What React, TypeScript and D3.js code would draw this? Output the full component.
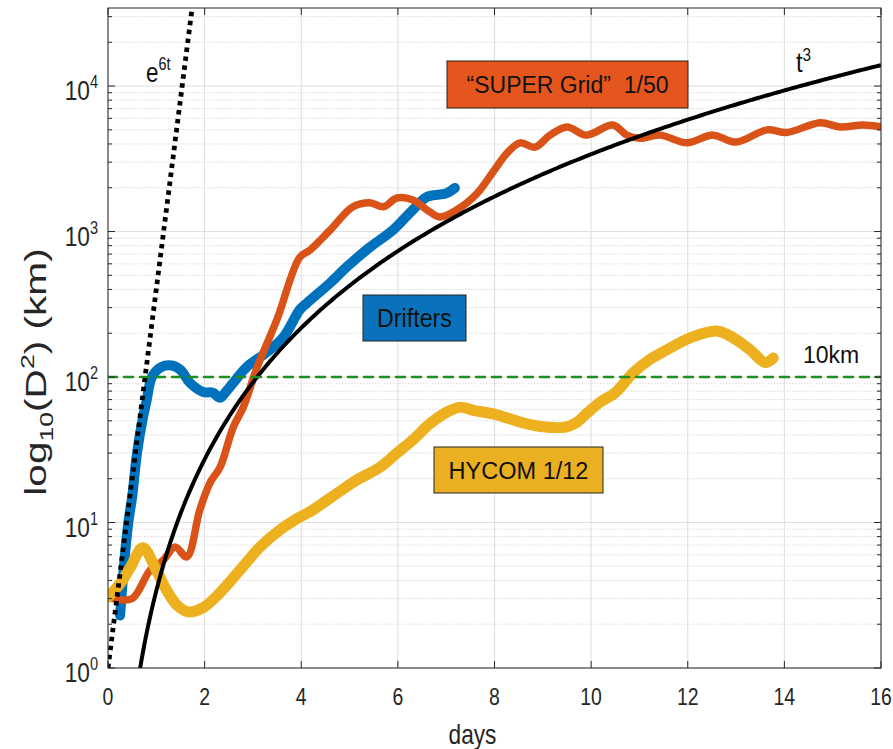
import React from "react";
import * as d3 from "d3";

// ---------- data ----------
const driftersDays = [0.25, 0.33, 0.42, 0.5, 0.6, 0.72, 0.8, 0.91, 1.1, 1.32, 1.5, 1.7, 1.97, 2.17, 2.32, 2.45, 2.59, 2.87, 3.29, 3.63, 3.97, 4.12, 4.6, 4.94, 5.42, 5.9, 6.31, 6.6, 7.0, 7.18];
const driftersD2 = [2.3, 5, 10, 15, 30, 52, 69, 100, 117, 120, 112, 91, 79, 78, 72, 80, 91, 117, 148, 188, 290, 323, 444, 570, 780, 1025, 1410, 1730, 1830, 1990];

const superDays = [0.1, 0.5, 0.87, 1.14, 1.39, 1.63, 1.9, 2.11, 2.32, 2.59, 2.8, 3.08, 3.5, 3.97, 4.18, 4.6, 5.07, 5.42, 5.7, 5.98, 6.31, 6.6, 6.87, 7.22, 7.64, 7.98, 8.26, 8.53, 8.84, 9.15, 9.5, 9.9, 10.45, 10.74, 11.0, 11.43, 11.98, 12.52, 13.0, 13.64, 14.05, 14.74, 15.15, 15.63, 16];
const superD2 = [3.0, 3.0, 4.7, 5.5, 6.8, 5.8, 12.2, 18.7, 24, 45, 62, 115, 250, 665, 745, 1025, 1480, 1580, 1480, 1700, 1650, 1410, 1260, 1410, 1830, 2600, 3460, 4070, 3800, 4600, 5240, 4600, 5400, 4600, 4380, 4600, 4070, 4600, 4120, 5000, 4800, 5600, 5240, 5400, 5240];

const hycomDays = [0, 0.25, 0.46, 0.72, 1.0, 1.22, 1.43, 1.66, 1.97, 2.32, 2.73, 3.15, 3.56, 3.97, 4.24, 4.74, 5.15, 5.63, 5.98, 6.31, 6.67, 7.02, 7.29, 7.56, 8.05, 8.53, 9.0, 9.5, 9.71, 9.92, 10.18, 10.5, 10.87, 11.2, 11.57, 12.05, 12.6, 12.94, 13.29, 13.6, 13.77];
const hycomD2 = [3.07, 3.8, 4.9, 6.7, 4.7, 3.4, 2.7, 2.43, 2.6, 3.3, 4.7, 6.8, 8.9, 10.9, 12.2, 15.9, 19.6, 24, 30, 37, 48, 57.5, 62, 59, 55, 49, 45.5, 45.5, 49, 56.6, 67, 78, 107, 131, 154, 186, 207, 186, 154, 126, 135];

// reference curves (as labelled in the chart): D2 = 3.4 t^3 and D2 = e^(6t)
const cubicCoef = 3.4;
const expRate = 6;
const refDays = d3.range(0, 16.001, 0.05);
const threshold10km = 100;

const xTicks = [0, 2, 4, 6, 8, 10, 12, 14, 16];
const yDecades = [0, 1, 2, 3, 4];

// ---------- layout ----------
const W = 893, H = 749;
const L = 108, R = 881, T = 8, B = 668;
const yMax = 34400;

const FONT = "'Liberation Sans', Arial, Helvetica, sans-serif";

export default function App() {
  const x = d3.scaleLinear().domain([0, 16]).range([L, R]);
  const y = d3.scaleLog().domain([1, yMax]).range([B, T]);

  const line = d3
    .line<[number, number]>()
    .x((d) => x(d[0]))
    .y((d) => y(d[1]))
    .curve(d3.curveCatmullRom.alpha(0.5));
  const straight = d3
    .line<[number, number]>()
    .x((d) => x(d[0]))
    .y((d) => y(d[1]));

  const zip = (a: number[], b: number[]) => a.map((v, i) => [v, b[i]] as [number, number]);

  const cubic = refDays.filter((t) => t > 0.6).map((t) => [t, cubicCoef * t * t * t] as [number, number]);
  const expo = refDays.filter((t) => t <= 1.8).map((t) => [t, Math.exp(expRate * t)] as [number, number]);

  const minorVals: number[] = [];
  for (let k = 0; k <= 4; k++) {
    for (let m = 2; m <= 9; m++) {
      const v = m * Math.pow(10, k);
      if (v < yMax) minorVals.push(v);
    }
  }

  const axisColor = "#262626";
  const gridColor = "#dedede";

  const sx = 0.81;

  return (
    <svg width={W} height={H} style={{ position: "absolute", left: 0, top: 0, background: "#fff" }}>
      <defs>
        <clipPath id="plot">
          <rect x={L} y={T} width={R - L} height={B - T} />
        </clipPath>
      </defs>
      <rect x={0} y={0} width={W} height={H} fill="#fff" />

      {/* grid */}
      <g>
        {minorVals.map((v) => (
          <line key={"mg" + v} x1={L} x2={R} y1={y(v)} y2={y(v)} stroke="#d0d0d0" strokeWidth={0.8} strokeDasharray="1.5,1.5" />
        ))}
        {yDecades.map((k) => (
          <line key={"yg" + k} x1={L} x2={R} y1={y(Math.pow(10, k))} y2={y(Math.pow(10, k))} stroke={gridColor} strokeWidth={1} />
        ))}
        {xTicks.map((t) => (
          <line key={"xg" + t} x1={x(t)} x2={x(t)} y1={T} y2={B} stroke={gridColor} strokeWidth={1} />
        ))}
      </g>

      {/* data */}
      <g clipPath="url(#plot)" fill="none" strokeLinejoin="round" strokeLinecap="round">
        <path d={line(zip(driftersDays, driftersD2)) || ""} stroke="#0072BD" strokeWidth={10} />
        <path d={line(zip(superDays, superD2)) || ""} stroke="#D95319" strokeWidth={7.5} />
        <path d={line(zip(hycomDays, hycomD2)) || ""} stroke="#EDB120" strokeWidth={11} />
        <path d={straight(cubic) || ""} stroke="#000" strokeWidth={4} strokeLinecap="butt" />
        <path d={straight(expo) || ""} stroke="#000" strokeWidth={4.8} strokeDasharray="4.5,4.5" strokeLinecap="butt" />
        <line x1={L} x2={R} y1={y(threshold10km)} y2={y(threshold10km)} stroke="#1f8f1f" strokeWidth={2.5} strokeDasharray="9,7" />
      </g>

      {/* axes box and ticks */}
      <g stroke={axisColor} strokeWidth={1}>
        <rect x={L} y={T} width={R - L} height={B - T} fill="none" />
        {xTicks.map((t) => (
          <g key={"xt" + t}>
            <line x1={x(t)} x2={x(t)} y1={B} y2={B - 7} />
            <line x1={x(t)} x2={x(t)} y1={T} y2={T + 7} />
          </g>
        ))}
        {yDecades.map((k) => (
          <g key={"yt" + k}>
            <line x1={L} x2={L + 7} y1={y(Math.pow(10, k))} y2={y(Math.pow(10, k))} />
            <line x1={R} x2={R - 7} y1={y(Math.pow(10, k))} y2={y(Math.pow(10, k))} />
          </g>
        ))}
        {minorVals.map((v) => (
          <g key={"ymt" + v}>
            <line x1={L} x2={L + 4} y1={y(v)} y2={y(v)} />
            <line x1={R} x2={R - 4} y1={y(v)} y2={y(v)} />
          </g>
        ))}
      </g>

      {/* tick labels */}
      <g fill="#262626" fontFamily={FONT}>
        {xTicks.map((t) => (
          <text key={"xl" + t} transform={`translate(${x(t)},${B + 37}) scale(${sx},1)`} textAnchor="middle" fontSize={24}>
            {t}
          </text>
        ))}
        {yDecades.map((k) => (
          <text key={"yl" + k} transform={`translate(${L - 10},${y(Math.pow(10, k)) + 14}) scale(${sx},1)`} textAnchor="end" fontSize={28}>
            <tspan>10</tspan>
            <tspan dy={-12} fontSize={18}>{k}</tspan>
          </text>
        ))}
        <text transform={`translate(${(L + R) / 2 - 22},${744}) scale(${sx},1)`} textAnchor="middle" fontSize={28}>
          days
        </text>
        <text transform={`translate(46,${372}) rotate(-90) scale(1.4,1)`} textAnchor="middle" fontSize={29}>
          <tspan>log</tspan>
          <tspan dy={7} fontSize={19}>10</tspan>
          <tspan dy={-7}>(D</tspan>
          <tspan dy={-12} fontSize={19}>2</tspan>
          <tspan dy={12}>) (km)</tspan>
        </text>
      </g>

      {/* annotations */}
      <g fontFamily={FONT} fill="#111">
        <text transform={`translate(146,82) scale(0.8,1)`} fontSize={28}>
          <tspan>e</tspan>
          <tspan dy={-12} fontSize={18}>6t</tspan>
        </text>
        <text transform={`translate(796,72) scale(0.85,1)`} fontSize={28}>
          <tspan>t</tspan>
          <tspan dy={-11} fontSize={18}>3</tspan>
        </text>
        <text transform={`translate(803,363)`} fontSize={23}>
          10km
        </text>

        <rect x={447} y={61} width={241} height={47} fill="#E4561D" stroke="#222" strokeWidth={1} />
        <text transform={`translate(567.5,93)`} textAnchor="middle" fontSize={23}>
          {"\u201CSUPER Grid\u201D\u00A0 1/50"}
        </text>

        <rect x={363} y={295} width={103} height={46} fill="#0A72BD" stroke="#222" strokeWidth={1} />
        <text transform={`translate(414.5,327) scale(0.93,1)`} textAnchor="middle" fontSize={25}>
          Drifters
        </text>

        <rect x={434} y={447} width={169} height={46} fill="#EBB022" stroke="#222" strokeWidth={1} />
        <text transform={`translate(518.5,479) scale(0.98,1)`} textAnchor="middle" fontSize={24}>
          HYCOM 1/12
        </text>
      </g>
    </svg>
  );
}
